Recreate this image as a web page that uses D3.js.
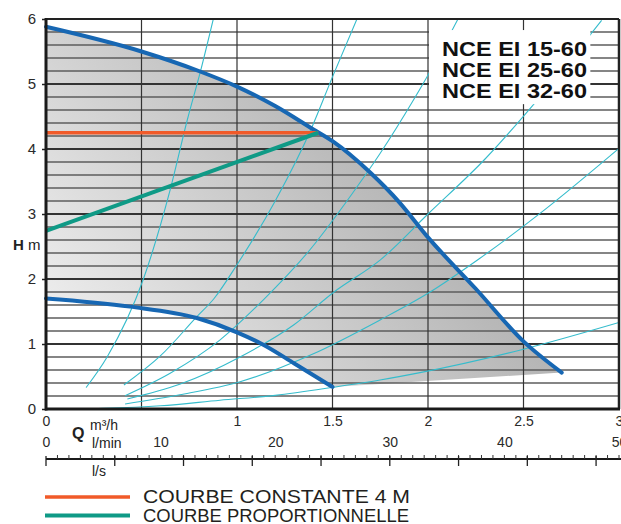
<!DOCTYPE html>
<html>
<head>
<meta charset="UTF-8"/>
<title>NCE EI 15-60</title>
<script src="https://d3js.org/d3.v7.min.js"></script>
<style>
body { margin: 0; background: #fff; font-family: 'Liberation Sans', Arial, sans-serif; }
svg { display: block; }
.tick text { fill: #2a2a2a; font-family: 'Liberation Sans', Arial, sans-serif; }
.hgrid line { stroke: #5c5c5c; stroke-width: 1.3; }
.hgrid line.major { stroke: #333; stroke-width: 2; }
.vgrid line { stroke: #333; stroke-width: 1.2; }
.sys { fill: none; stroke: #35bccc; stroke-width: 1.1; }
.pump { fill: none; stroke: #1767b3; stroke-width: 4; stroke-linecap: round; }
.legend { font-size: 18px; fill: #231f20; }
</style>
</head>
<body>
<svg width="621" height="524"></svg>
<script>
// Q in m3/h, H in m
const qTicks = [0, 1, 1.5, 2, 2.5, 3];
const hTicks = [0, 1, 2, 3, 4, 5, 6];
const lminTicks = [0, 10, 20, 30, 40, 50];
const lsTicks = [0, 0.1, 0.2, 0.3, 0.4, 0.5, 0.6, 0.7, 0.8];
const models = ['NCE EI 15-60', 'NCE EI 25-60', 'NCE EI 32-60'];
const legendLabels = ['COURBE CONSTANTE 4 M', 'COURBE PROPORTIONNELLE'];

const maxCurve = [[0, 5.88], [0.5, 5.5], [0.8, 5.2], [1.0, 4.96], [1.2, 4.66], [1.4, 4.3],
  [1.5, 4.12], [1.7, 3.63], [1.85, 3.18], [2.0, 2.64], [2.25, 1.85], [2.5, 1.04], [2.7, 0.56]];
const minCurve = [[0, 1.7], [0.44, 1.575], [0.79, 1.4], [1.0, 1.18], [1.14, 0.985], [1.3, 0.7], [1.5, 0.34]];
const constCurve = [[0, 4.25], [1.425, 4.25]];
const propCurve = [[0, 2.74], [1.425, 4.25]];

// system curves (thin cyan)
const sysA = [[0.21, 0.33], [0.32, 0.8], [0.51, 2.0], [0.65, 3.37], [0.74, 4.45], [0.81, 5.21], [0.876, 6.0]];
const sysB = [[0.408, 0.37], [0.6, 0.82], [0.79, 1.42], [0.88, 1.7], [1.0, 2.22], [1.2, 3.2], [1.39, 4.32], [1.5, 5.11], [1.628, 6.0]];
const sysC = [[0.414, 0.205], [0.65, 0.55], [0.91, 1.06], [1.138, 1.68], [1.382, 2.45], [1.6, 3.3], [1.749, 3.93], [1.923, 4.75], [2.01, 5.19], [2.157, 6.0]];
const sysD = [[0.426, 0.154], [0.7, 0.38], [1.016, 0.8], [1.3, 1.3], [1.508, 1.8], [1.749, 2.29], [2.0, 3.0], [2.3, 3.85], [2.551, 4.68], [2.909, 5.98]];
const sysE = [[0.414, 0.077], [0.7, 0.22], [1.016, 0.42], [1.4, 0.85], [1.749, 1.37], [2.0, 1.78], [2.272, 2.32], [2.6, 3.04], [3.0, 4.01]];
const sysF = [[0, 0], [0.3, 0.012], [0.6, 0.05], [0.911, 0.135], [1.2, 0.21], [1.504, 0.334], [1.749, 0.446], [1.958, 0.56], [2.5, 0.92], [3.0, 1.33]];
const sysCurves = [sysA, sysB, sysC, sysD, sysE, sysF];

const svg = d3.select('svg');
const pLeft = 46, pRight = 619, pTop = 19, pBottom = 409;

const x = d3.scaleLinear().domain([0, 3]).range([pLeft, pRight]);
const y = d3.scaleLinear().domain([0, 6]).range([pBottom, pTop]);
// l/min and l/s share the same width as m3/h
const xl = d3.scaleLinear().domain([0, 50]).range([pLeft, x(3)]);
const xs = d3.scaleLinear().domain([0, 50 / 60]).range([pLeft, x(3)]);

const line = d3.line().x(d => x(d[0])).y(d => y(d[1])).curve(d3.curveMonotoneX);
const straight = d3.line().x(d => x(d[0])).y(d => y(d[1]));

const defs = svg.append('defs');
const grad = defs.append('linearGradient').attr('id', 'gfill')
  .attr('x1', 0).attr('y1', 0.75).attr('x2', 0.9).attr('y2', 0.25);
grad.append('stop').attr('offset', 0).attr('stop-color', '#ececec');
grad.append('stop').attr('offset', 1).attr('stop-color', '#a2a2a2');
defs.append('clipPath').attr('id', 'plot').append('rect')
  .attr('x', pLeft).attr('y', pTop).attr('width', pRight - pLeft).attr('height', pBottom - pTop);

// grey operating area
const topPath = line(maxCurve);
const botPath = line(minCurve.slice().reverse());
svg.append('path')
  .attr('d', topPath + 'L' + botPath.slice(1) + 'Z')
  .attr('fill', 'url(#gfill)');

// grid
svg.append('g').attr('class', 'hgrid')
  .selectAll('line').data(d3.range(1, 30)).join('line')
  .attr('class', d => d % 5 === 0 ? 'major' : null)
  .attr('x1', pLeft).attr('x2', pRight)
  .attr('y1', d => y(d / 5)).attr('y2', d => y(d / 5));

svg.append('g').attr('class', 'vgrid')
  .selectAll('line').data([0.5, 1, 1.5, 2, 2.5]).join('line')
  .attr('x1', d => x(d)).attr('x2', d => x(d))
  .attr('y1', pTop).attr('y2', pBottom);

// system curves
svg.append('g').attr('clip-path', 'url(#plot)')
  .selectAll('path').data(sysCurves).join('path')
  .attr('class', 'sys')
  .attr('d', line);

// model box
svg.append('rect')
  .attr('x', x(2) + 1).attr('y', y(5.83))
  .attr('width', x(2.85) - x(2) - 1).attr('height', y(4.69) - y(5.83))
  .attr('fill', '#fff');
svg.append('g').selectAll('text').data(models).join('text')
  .attr('x', 442).attr('y', (d, i) => 56 + i * 21)
  .attr('textLength', 145).attr('lengthAdjust', 'spacingAndGlyphs')
  .style('font-size', '20px').style('font-weight', 'bold').attr('fill', '#111')
  .text(d => d);

// pump curves
svg.append('path').attr('class', 'pump').attr('d', line(maxCurve));
svg.append('path').attr('class', 'pump').attr('d', line(minCurve));
svg.append('path').attr('d', straight(constCurve))
  .attr('stroke', '#f15a29').attr('stroke-width', 3.5).attr('fill', 'none');
svg.append('path').attr('d', straight(propCurve))
  .attr('stroke', '#0f9a86').attr('stroke-width', 4).attr('fill', 'none');

// frame
svg.append('line').attr('x1', pLeft).attr('x2', pRight).attr('y1', pTop).attr('y2', pTop)
  .attr('stroke', '#222').attr('stroke-width', 2);
svg.append('line').attr('x1', pRight).attr('x2', pRight).attr('y1', pTop).attr('y2', pBottom)
  .attr('stroke', '#222').attr('stroke-width', 2.5);

// y axis
const yAxis = svg.append('g').attr('transform', `translate(${pLeft},0)`)
  .call(d3.axisLeft(y).tickValues(hTicks).tickSize(4).tickPadding(6).tickFormat(d3.format('d')));
yAxis.select('.domain').remove();
yAxis.selectAll('text').style('font-size', '15px');
yAxis.selectAll('line').attr('stroke', '#222').attr('stroke-width', 1.5);
svg.append('line').attr('x1', pLeft).attr('x2', pLeft).attr('y1', pTop - 1).attr('y2', pBottom + 1.5)
  .attr('stroke', '#1a1a1a').attr('stroke-width', 3);

const hLabel = svg.append('text').attr('x', 13).attr('y', 250).style('font-size', '15px').attr('fill', '#222');
hLabel.append('tspan').style('font-weight', 'bold').text('H');
hLabel.append('tspan').text(' m');

// x axis m3/h
svg.append('line').attr('x1', pLeft - 1).attr('x2', pRight + 1).attr('y1', pBottom).attr('y2', pBottom)
  .attr('stroke', '#1a1a1a').attr('stroke-width', 3);
const xAxis = svg.append('g').attr('transform', `translate(0,${pBottom})`)
  .call(d3.axisBottom(x).tickValues(qTicks).tickSize(0).tickPadding(7).tickFormat(d => d));
xAxis.select('.domain').remove();
xAxis.selectAll('text').style('font-size', '14px');

// l/min labels
const lAxis = svg.append('g').attr('transform', 'translate(0,437)')
  .call(d3.axisBottom(xl).tickValues(lminTicks).tickSize(0).tickPadding(0));
lAxis.select('.domain').remove();
lAxis.selectAll('text').style('font-size', '14px');

svg.append('text').attr('x', 72).attr('y', 439).style('font-size', '16px').style('font-weight', 'bold')
  .attr('fill', '#222').text('Q');
svg.append('text').attr('x', 90).attr('y', 430).style('font-size', '14px').attr('fill', '#222').text('m³/h');
svg.append('text').attr('x', 92).attr('y', 448).style('font-size', '14px').attr('fill', '#222').text('l/min');
svg.append('text').attr('x', 92).attr('y', 476).style('font-size', '14px').attr('fill', '#222').text('l/s');

// ruler: l/min ticks above, l/s ticks below
const ruler = svg.append('g').attr('transform', 'translate(0,459)');
ruler.append('line').attr('x1', pLeft).attr('x2', 621).attr('y1', 0).attr('y2', 0)
  .attr('stroke', '#1a1a1a').attr('stroke-width', 2);
ruler.selectAll('line.mn').data(d3.range(1, 51)).join('line').attr('class', 'mn')
  .attr('x1', d => xl(d)).attr('x2', d => xl(d)).attr('y1', 0).attr('y2', -4)
  .attr('stroke', '#333').attr('stroke-width', 1);
ruler.selectAll('line.ls').data(lsTicks).join('line').attr('class', 'ls')
  .attr('x1', d => xs(d)).attr('x2', d => xs(d)).attr('y1', -3).attr('y2', 7)
  .attr('stroke', '#222').attr('stroke-width', 1.3);

// legend
const legend = svg.append('g');
const legendColors = ['#f15a29', '#0f9a86'];
const legendWidths = [267, 266];
legendLabels.forEach((lab, i) => {
  const yy = 497 + i * 18.5;
  legend.append('line').attr('x1', 45).attr('x2', 130).attr('y1', yy).attr('y2', yy)
    .attr('stroke', legendColors[i]).attr('stroke-width', i ? 4 : 3.5);
  legend.append('text').attr('class', 'legend').attr('x', 143).attr('y', yy + 6)
    .attr('textLength', legendWidths[i]).attr('lengthAdjust', 'spacingAndGlyphs')
    .text(lab);
});
</script>
</body>
</html>
